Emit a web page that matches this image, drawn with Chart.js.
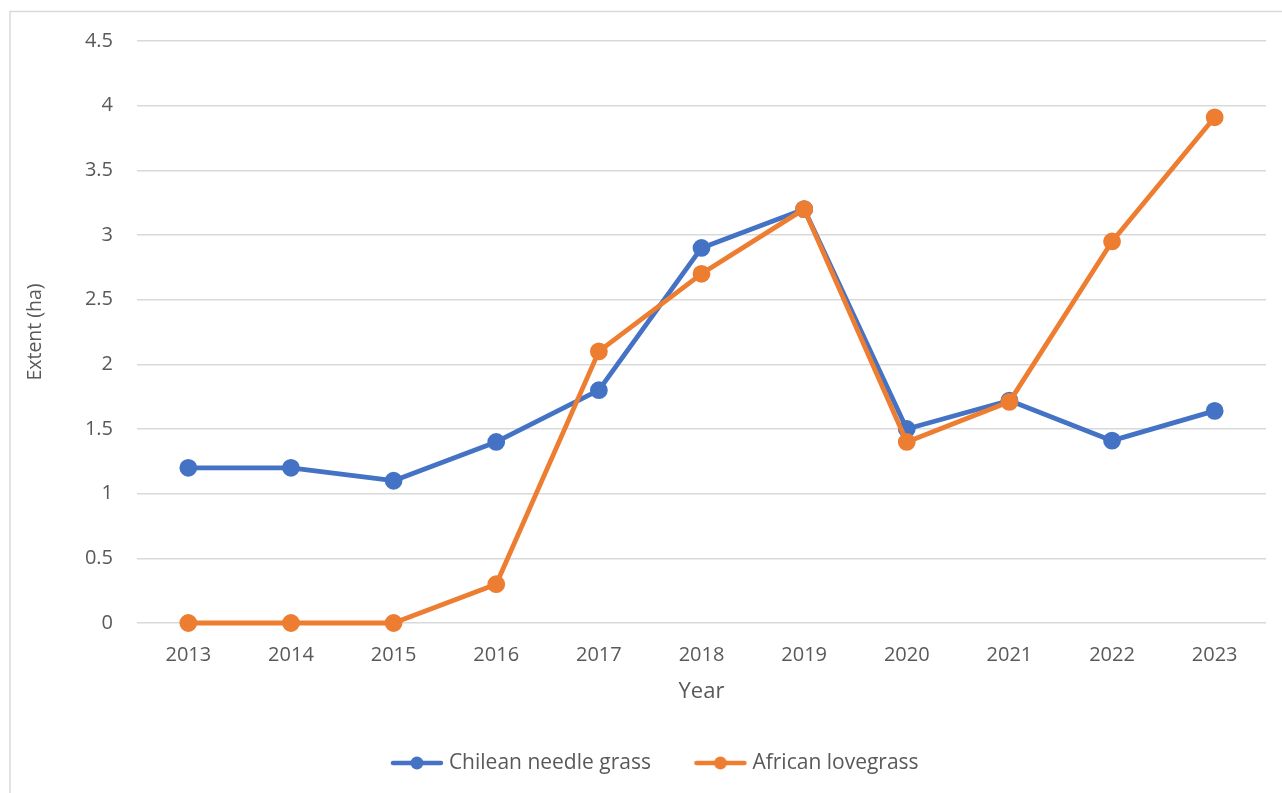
<!DOCTYPE html>
<html>
<head>
<meta charset="utf-8">
<script src="https://cdn.jsdelivr.net/npm/chart.js@4/dist/chart.umd.min.js"></script>
<style>
  html, body { margin: 0; padding: 0; background: #ffffff; }
  #wrap { position: relative; width: 1282px; height: 793px; }
</style>
</head>
<body>
<div id="wrap"><canvas id="c" width="1282" height="793"></canvas></div>
<script>
const years = ['2013','2014','2015','2016','2017','2018','2019','2020','2021','2022','2023'];
const chileanNeedleGrass = [1.2, 1.2, 1.1, 1.4, 1.8, 2.9, 3.2, 1.5, 1.72, 1.41, 1.64];
const africanLovegrass = [0, 0, 0, 0.3, 2.1, 2.7, 3.2, 1.4, 1.71, 2.95, 3.91];
const yTickLabels = ['0', '0.5', '1', '1.5', '2', '2.5', '3', '3.5', '4', '4.5'];
const seriesNames = ['Chilean needle grass', 'African lovegrass'];
const seriesColors = ['#4472C4', '#ED7D31'];
const yMin = 0, yMax = 4.5, yStep = 0.5;
const xTitle = 'Year';
const yTitle = 'Extent (ha)';

const FONT = "'Open Sans', 'DejaVu Sans', sans-serif";
const TXT = '#595959';

// legend symbol: transparent left margin + line with a dot (Excel style)
const SYM_W = 96, SYM_H = 16, SYM_P = 81;
function legendSymbol(color) {
  const cv = document.createElement('canvas');
  cv.width = SYM_W; cv.height = SYM_H;
  const g = cv.getContext('2d');
  const x2 = SYM_W - 3, x1 = x2 - 52, cy = SYM_H / 2;
  g.strokeStyle = color; g.lineWidth = 4.5; g.lineCap = 'round';
  g.beginPath(); g.moveTo(x1 + 2, cy); g.lineTo(x2 - 2, cy); g.stroke();
  g.fillStyle = color;
  g.beginPath(); g.arc((x1 + x2) / 2, cy, 6.5, 0, Math.PI * 2); g.fill();
  return cv;
}

const borderPlugin = {
  id: 'outerBorder',
  beforeDraw(chart) {
    const ctx = chart.ctx;
    ctx.save();
    ctx.fillStyle = '#ffffff';
    ctx.fillRect(0, 0, chart.width, chart.height);
    ctx.strokeStyle = '#d9d9d9';
    ctx.lineWidth = 1.5;
    ctx.strokeRect(10, 11.5, 2000, 2000);
    ctx.restore();
  }
};

new Chart(document.getElementById('c'), {
  type: 'line',
  data: {
    labels: years,
    datasets: [
      { label: seriesNames[0], data: chileanNeedleGrass, order: 1 },
      { label: seriesNames[1], data: africanLovegrass, order: 0 }
    ].map((d, i) => Object.assign(d, {
      borderColor: seriesColors[i],
      backgroundColor: seriesColors[i],
      pointBackgroundColor: seriesColors[i],
      pointBorderColor: seriesColors[i],
      borderWidth: 4.8,
      pointRadius: 6.5,
      pointHoverRadius: 6.5,
      borderCapStyle: 'round',
      borderJoinStyle: 'round',
      tension: 0,
      clip: false,
      fill: false
    }))
  },
  options: {
    responsive: false,
    animation: false,
    events: [],
    layout: { padding: { top: 41, right: 16, bottom: 9.5, left: 10 } },
    plugins: {
      tooltip: { enabled: false },
      legend: {
        position: 'bottom',
        labels: {
          usePointStyle: true,
          pointStyleWidth: SYM_P,
          boxHeight: 16,
          padding: 10,
          color: TXT,
          font: { family: FONT, size: 21 },
          generateLabels(chart) {
            return chart.data.datasets.map((d, i) => ({
              text: d.label,
              fillStyle: seriesColors[i],
              strokeStyle: seriesColors[i],
              fontColor: TXT,
              lineWidth: 0,
              pointStyle: legendSymbol(seriesColors[i]),
              hidden: false,
              datasetIndex: i
            }));
          }
        }
      }
    },
    scales: {
      x: {
        type: 'category',
        offset: true,
        grid: { display: false, drawTicks: false },
        border: { display: false },
        ticks: { color: TXT, font: { family: FONT, size: 20 }, padding: 20, maxRotation: 0 },
        title: { display: true, text: xTitle, color: TXT, font: { family: FONT, size: 22, lineHeight: 1 }, padding: { top: 0, bottom: 39.5 } },
        afterFit(scale) { scale.height = 119.5; }
      },
      y: {
        min: yMin, max: yMax,
        grid: { color: '#d9d9d9', lineWidth: 1.5, drawTicks: false },
        border: { display: false },
        ticks: {
          stepSize: yStep, color: TXT, font: { family: FONT, size: 20 }, padding: 24,
          callback: (v, i) => yTickLabels[i]
        },
        title: { display: true, text: yTitle, color: TXT, font: { family: FONT, size: 19.5, lineHeight: 1.2 }, padding: { top: 13.3, bottom: 0 } },
        afterFit(scale) { scale.width = 127; }
      }
    }
  },
  plugins: [borderPlugin]
});
</script>
</body>
</html>
